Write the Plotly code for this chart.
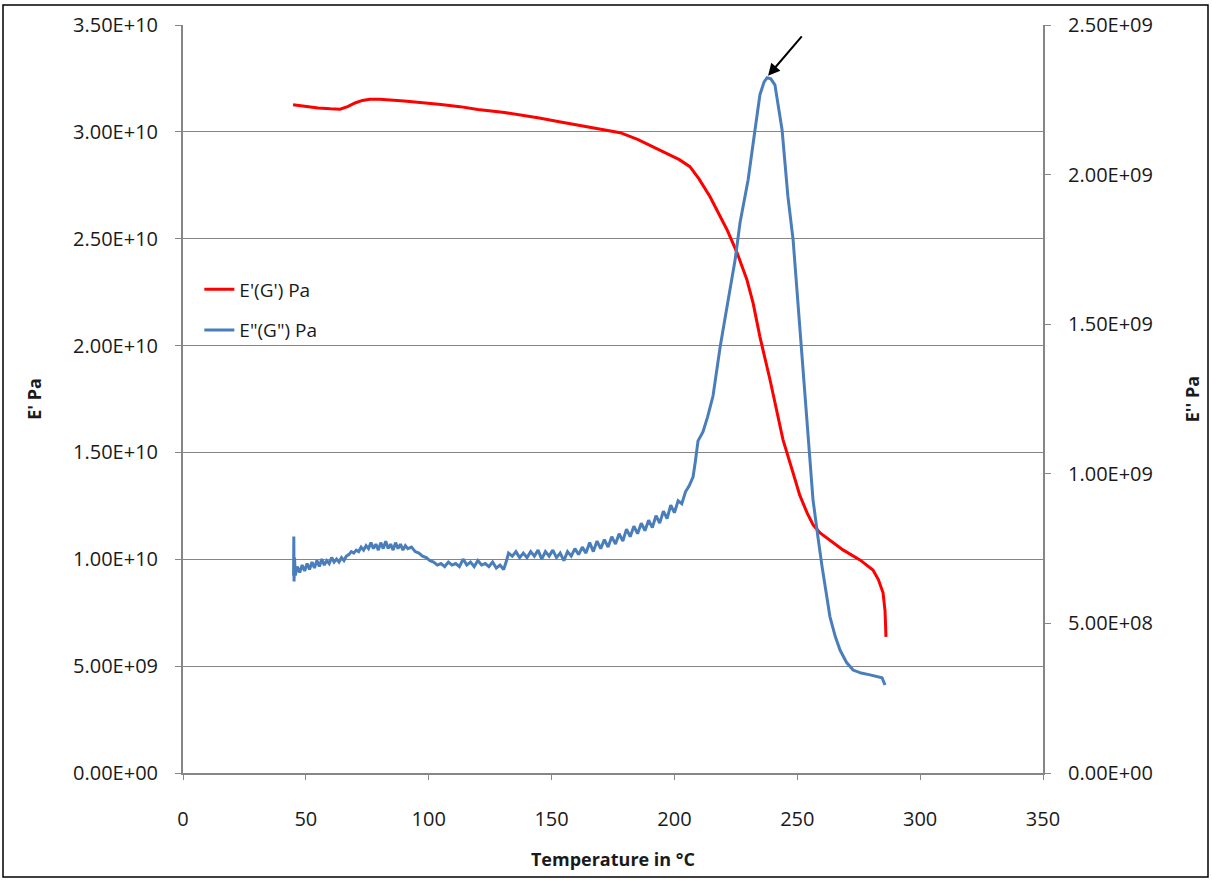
import plotly.graph_objects as go

# ---- data ----
temp_storage = [44.8, 50, 55, 60, 63.9, 67, 70, 73, 76.1, 80, 85, 90, 96.5, 100, 105, 112.7, 120,
                130, 137.2, 145, 152, 158.7, 165, 172, 177.9, 185, 191.3, 198.2, 202, 206.3, 210,
                214.5, 218, 221.4, 225.5, 229.5, 232, 234.8, 238.9, 241.5, 244.2, 248.3, 251, 254.0,
                256.5, 259.3, 263, 268.6, 275.5, 280.8, 283, 284.9, 285.7, 286.1]
e_storage = [3.127e10, 3.118e10, 3.112e10, 3.108e10, 3.106e10, 3.118e10, 3.135e10, 3.147e10,
             3.152e10, 3.152e10, 3.149e10, 3.144e10, 3.137e10, 3.134e10, 3.128e10, 3.118e10,
             3.105e10, 3.092e10, 3.080e10, 3.065e10, 3.050e10, 3.036e10, 3.022e10, 3.010e10,
             2.996e10, 2.965e10, 2.930e10, 2.895e10, 2.870e10, 2.837e10, 2.78e10, 2.696e10,
             2.62e10, 2.542e10, 2.434e10, 2.308e10, 2.20e10, 2.041e10, 1.840e10, 1.70e10,
             1.559e10, 1.404e10, 1.30e10, 1.217e10, 1.16e10, 1.123e10, 1.09e10, 1.044e10,
             0.997e10, 0.950e10, 0.905e10, 0.843e10, 0.76e10, 0.637e10]

temp_loss = [45.0, 45.1, 45.2, 45.4, 45.7, 46.5, 47.5, 48.5, 49.5, 50.5, 51.5, 52.5, 53.5, 54.5,
             55.5, 56.5, 57.5, 58.5, 59.5, 60.5, 61.5, 62.5, 63.5, 64.5, 65.5, 66.5, 67.5, 68.5,
             69.5, 70.5, 71.5, 72.5, 73.5, 74.5, 75.5, 76.5, 77.5, 78.5, 79.5, 80.5, 81.5, 82.5,
             83.5, 84.5, 85.5, 86.5, 87.5, 88.5, 89.5, 90.5, 91.5, 93, 94.5, 96, 97.5, 99, 100.5,
             102, 103.5, 105, 106.5, 108, 109.5, 111, 112.5, 114, 115.5, 117, 118.5, 120, 121.5,
             123, 124.5, 126, 127.5, 129, 130.5, 131.5, 132.5, 134, 135.5, 137, 138.5, 140, 141.5,
             143, 144.5, 146, 147.5, 149, 150.5, 152, 153.5, 155, 156.5, 158, 159.5, 161, 162.5,
             164, 165.5, 167, 168.5, 170, 171.5, 173, 174.5, 176, 177.5, 179, 180.5, 182, 183.5,
             185, 186.5, 188, 189.5, 191, 192.5, 194, 195.5, 197, 198.5, 200, 201.5, 203, 204.5,
             206, 207.6, 208.5, 209.6, 211.6, 213.5, 215.7, 218.6, 221.4, 224.7, 226.7, 230.0,
             232.8, 234.8, 236.5, 237.7, 239.2, 240.9, 243.8, 246.2, 248.3, 251.1, 254.4, 256.4,
             258.4, 260.1, 263.3, 265.5, 267.4, 270.0, 272.7, 276.0, 279.6, 284.5, 285.7]
e_loss = [6.6e8, 7.9e8, 6.4e8, 7.2e8, 6.6e8, 6.9e8, 6.7e8, 6.95e8, 6.75e8, 7.0e8, 6.8e8, 7.05e8,
          6.85e8, 7.1e8, 6.9e8, 7.15e8, 6.95e8, 7.1e8, 7.0e8, 7.2e8, 7.05e8, 7.15e8, 7.05e8, 7.2e8,
          7.1e8, 7.25e8, 7.3e8, 7.4e8, 7.35e8, 7.45e8, 7.4e8, 7.55e8, 7.45e8, 7.6e8, 7.5e8, 7.7e8,
          7.5e8, 7.65e8, 7.45e8, 7.7e8, 7.5e8, 7.75e8, 7.5e8, 7.65e8, 7.45e8, 7.7e8, 7.5e8, 7.65e8,
          7.45e8, 7.6e8, 7.5e8, 7.55e8, 7.4e8, 7.35e8, 7.25e8, 7.2e8, 7.1e8, 7.05e8, 6.95e8, 7.0e8,
          6.9e8, 7.05e8, 6.95e8, 7.0e8, 6.9e8, 7.15e8, 6.95e8, 7.05e8, 6.9e8, 7.1e8, 6.95e8, 7.0e8,
          6.9e8, 7.05e8, 6.85e8, 6.95e8, 6.8e8, 7.05e8, 7.35e8, 7.25e8, 7.4e8, 7.2e8, 7.35e8, 7.2e8,
          7.4e8, 7.25e8, 7.45e8, 7.15e8, 7.4e8, 7.25e8, 7.45e8, 7.2e8, 7.35e8, 7.1e8, 7.4e8, 7.25e8,
          7.5e8, 7.3e8, 7.55e8, 7.35e8, 7.7e8, 7.4e8, 7.75e8, 7.5e8, 7.8e8, 7.55e8, 7.9e8, 7.65e8,
          8.0e8, 7.75e8, 8.15e8, 7.9e8, 8.25e8, 8.0e8, 8.35e8, 8.1e8, 8.45e8, 8.2e8, 8.6e8, 8.35e8,
          8.75e8, 8.5e8, 8.95e8, 8.7e8, 9.1e8, 9.0e8, 9.4e8, 9.6e8, 9.9e8, 10.4e8, 11.1e8, 11.4e8,
          11.9e8, 12.6e8, 14.24e8, 15.58e8, 17.15e8, 18.39e8, 19.83e8, 21.5e8, 22.67e8, 23.1e8,
          23.24e8, 23.2e8, 23.0e8, 21.5e8, 19.26e8, 17.82e8, 14.81e8, 11.47e8, 9.13e8, 7.89e8,
          6.89e8, 5.22e8, 4.55e8, 4.11e8, 3.70e8, 3.44e8, 3.34e8, 3.28e8, 3.18e8, 2.94e8]

x_ticks = [0, 50, 100, 150, 200, 250, 300, 350]
y_left_ticks = [0, 5e9, 1e10, 1.5e10, 2e10, 2.5e10, 3e10, 3.5e10]
y_left_labels = ["0.00E+00", "5.00E+09", "1.00E+10", "1.50E+10", "2.00E+10", "2.50E+10",
                 "3.00E+10", "3.50E+10"]
y_right_ticks = [0, 5e8, 1e9, 1.5e9, 2e9, 2.5e9]
y_right_labels = ["0.00E+00", "5.00E+08", "1.00E+09", "1.50E+09", "2.00E+09", "2.50E+09"]
peak_T, peak_val = 238.1, 2.33e9

FONT = "Open Sans"
GRAY = "#868686"

W, H = 1212, 880
L, R, T, B = 183, 169, 25, 107
plot_w = W - L - R
plot_h = H - T - B

fig = go.Figure()
fig.add_trace(go.Scatter(x=temp_storage, y=e_storage, name="E'(G') Pa", mode="lines",
                         line=dict(color="#FF0000", width=3), legendgroup="a"))
fig.add_trace(go.Scatter(x=temp_loss, y=e_loss, name='E"(G") Pa', mode="lines",
                         line=dict(color="#4A7EBB", width=3), yaxis="y2", legendgroup="b"))

fig.update_layout(
    width=W, height=H,
    margin=dict(l=L, r=R, t=T, b=B),
    paper_bgcolor="white", plot_bgcolor="white",
    font=dict(family=FONT, size=20, color="#1a1a1a"),
    xaxis=dict(range=[0, 350], tickvals=x_ticks, showgrid=False, zeroline=False,
               showline=True, linecolor=GRAY, linewidth=2, ticks="outside", ticklen=5,
               tickcolor=GRAY, ticklabelstandoff=22,
               title=dict(text="<b>Temperature in °C</b>", font=dict(size=18), standoff=22)),
    yaxis=dict(range=[0, 3.5e10], tickvals=y_left_ticks, ticktext=y_left_labels,
               showgrid=True, gridcolor=GRAY, gridwidth=1, zeroline=False,
               showline=True, linecolor=GRAY, linewidth=2, ticks="outside", ticklen=6,
               tickcolor=GRAY, ticklabelstandoff=13,
               title=dict(text="<b>E' Pa</b>", font=dict(size=18), standoff=27)),
    yaxis2=dict(range=[0, 2.5e9], tickvals=y_right_ticks, ticktext=y_right_labels,
                overlaying="y", side="right", showgrid=False, zeroline=False,
                showline=True, linecolor=GRAY, linewidth=2, ticks="outside", ticklen=6,
                tickcolor=GRAY, ticklabelstandoff=13,
                title=dict(text="<b>E'' Pa</b>", font=dict(size=18), standoff=34)),
    legend=dict(x=0.019, y=0.672, xanchor="left", yanchor="top", bgcolor="rgba(0,0,0,0)",
                font=dict(size=19, color="#1a1a1a"), tracegroupgap=13, traceorder="grouped"),
    showlegend=True,
)

fig.add_annotation(x=peak_T, y=peak_val, xref="x", yref="y2", ax=35, ay=-41,
                   showarrow=True, arrowhead=2, arrowsize=1.2, arrowwidth=2,
                   arrowcolor="black", text="", standoff=0)

# thin black frame around the whole image
fig.add_shape(type="rect", xref="paper", yref="paper",
              x0=(3 - L) / plot_w, x1=(1208 - L) / plot_w,
              y0=(H - B - 877) / plot_h, y1=(H - B - 5) / plot_h,
              line=dict(color="black", width=1.5), fillcolor="rgba(0,0,0,0)", layer="above")

fig.write_html("out.html", config={"displayModeBar": False},
               post_script="document.body.style.margin='0';document.body.style.overflow='hidden';")
